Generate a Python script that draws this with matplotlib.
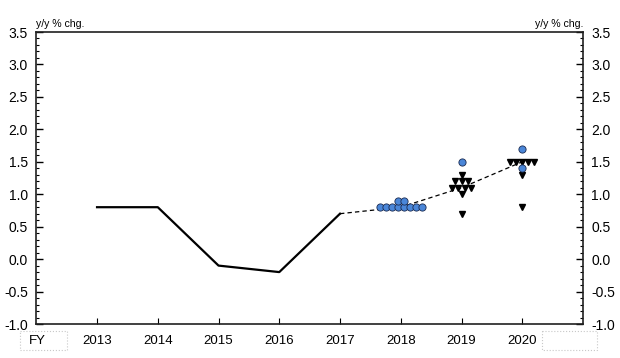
import matplotlib.pyplot as plt
from matplotlib.patches import Rectangle
from matplotlib.ticker import MultipleLocator
import matplotlib.transforms as mtransforms

plt.rcParams['font.family'] = ['Liberation Sans', 'DejaVu Sans']

# actual results
years_actual = [2013, 2014, 2015, 2016, 2017]
actual = [0.8, 0.8, -0.1, -0.2, 0.7]

# median of projections
years_median = [2017, 2018, 2019, 2020]
median = [0.7, 0.8, 1.1, 1.5]

# individual projections: year -> list of (value, count)
circles = {
    2018: [(0.8, 8), (0.9, 2)],
    2019: [(1.5, 1)],
    2020: [(1.7, 1), (1.4, 1)],
}
triangles = {
    2019: [(1.3, 1), (1.2, 3), (1.1, 4), (1.0, 1), (0.7, 1)],
    2020: [(1.5, 5), (1.3, 1), (0.8, 1)],
}

year_labels = ["2013", "2014", "2015", "2016", "2017", "2018", "2019", "2020"]
year_ticks = [2013, 2014, 2015, 2016, 2017, 2018, 2019, 2020]

STEP = 0.1  # horizontal spread of stacked markers


def spread(year, n):
    return [year + (i - (n - 1) / 2) * STEP for i in range(n)]


fig = plt.figure(figsize=(6.2, 3.58), dpi=100)
ax = fig.add_axes([36.3 / 620, 34 / 358, (583 - 36.3) / 620, 292 / 358])

ax.plot(years_actual, actual, color="black", lw=1.6, zorder=3)
ax.plot(years_median, median, color="black", lw=0.9, ls=(0, (3.5, 2.5)), zorder=2)

for yr, rows in triangles.items():
    for val, n in rows:
        ax.plot(spread(yr, n), [val] * n, ls="none", marker="v", ms=5,
                color="black", zorder=4)
for yr, rows in circles.items():
    for val, n in rows:
        ax.plot(spread(yr, n), [val] * n, ls="none", marker="o", ms=5.2,
                mfc="#4a86d8", mec="#1a2a50", mew=0.6, zorder=5)

ax.set_xlim(2012, 2021)
ax.yaxis.set_major_locator(MultipleLocator(0.5))
ax.yaxis.set_minor_locator(MultipleLocator(0.1))
ax.yaxis.set_major_formatter(plt.FuncFormatter(lambda v, p: f"{v:.1f}"))
ax.tick_params(axis="y", which="major", direction="in", length=5, width=1,
               left=True, right=True, labelleft=True, labelright=True,
               labelsize=10, pad=6)
ax.tick_params(axis="y", which="minor", direction="in", length=2.5, width=0.8,
               left=True, right=True)
ax.set_ylim(-1.0, 3.5)

ax.set_xticks(year_ticks)
ax.set_xticklabels(year_labels)
ax.tick_params(axis="x", direction="in", length=4, width=0.8, labelsize=9.5, pad=8)

for s in ax.spines.values():
    s.set_linewidth(1.2)
    s.set_color("#202020")

ax.text(0.0, 1.01, "y/y % chg.", transform=ax.transAxes, fontsize=7.6,
        ha="left", va="bottom")
ax.text(1.0, 1.01, "y/y % chg.", transform=ax.transAxes, fontsize=7.6,
        ha="right", va="bottom")

# bottom label boxes
trans = mtransforms.blended_transform_factory(ax.transData, ax.transAxes)
ax.add_patch(Rectangle((2011.73, -0.024), 0.78, -0.065, transform=trans,
                       fill=False, ec="#c8c8c8", lw=0.8, ls=":", clip_on=False))
ax.add_patch(Rectangle((2020.33, -0.024), 0.9, -0.065, transform=trans,
                       fill=False, ec="#c8c8c8", lw=0.8, ls=":", clip_on=False))
ax.text(2011.87, -0.057, "FY", transform=trans, fontsize=9.5, ha="left",
        va="center")

fig.savefig("out.png", dpi=100)
